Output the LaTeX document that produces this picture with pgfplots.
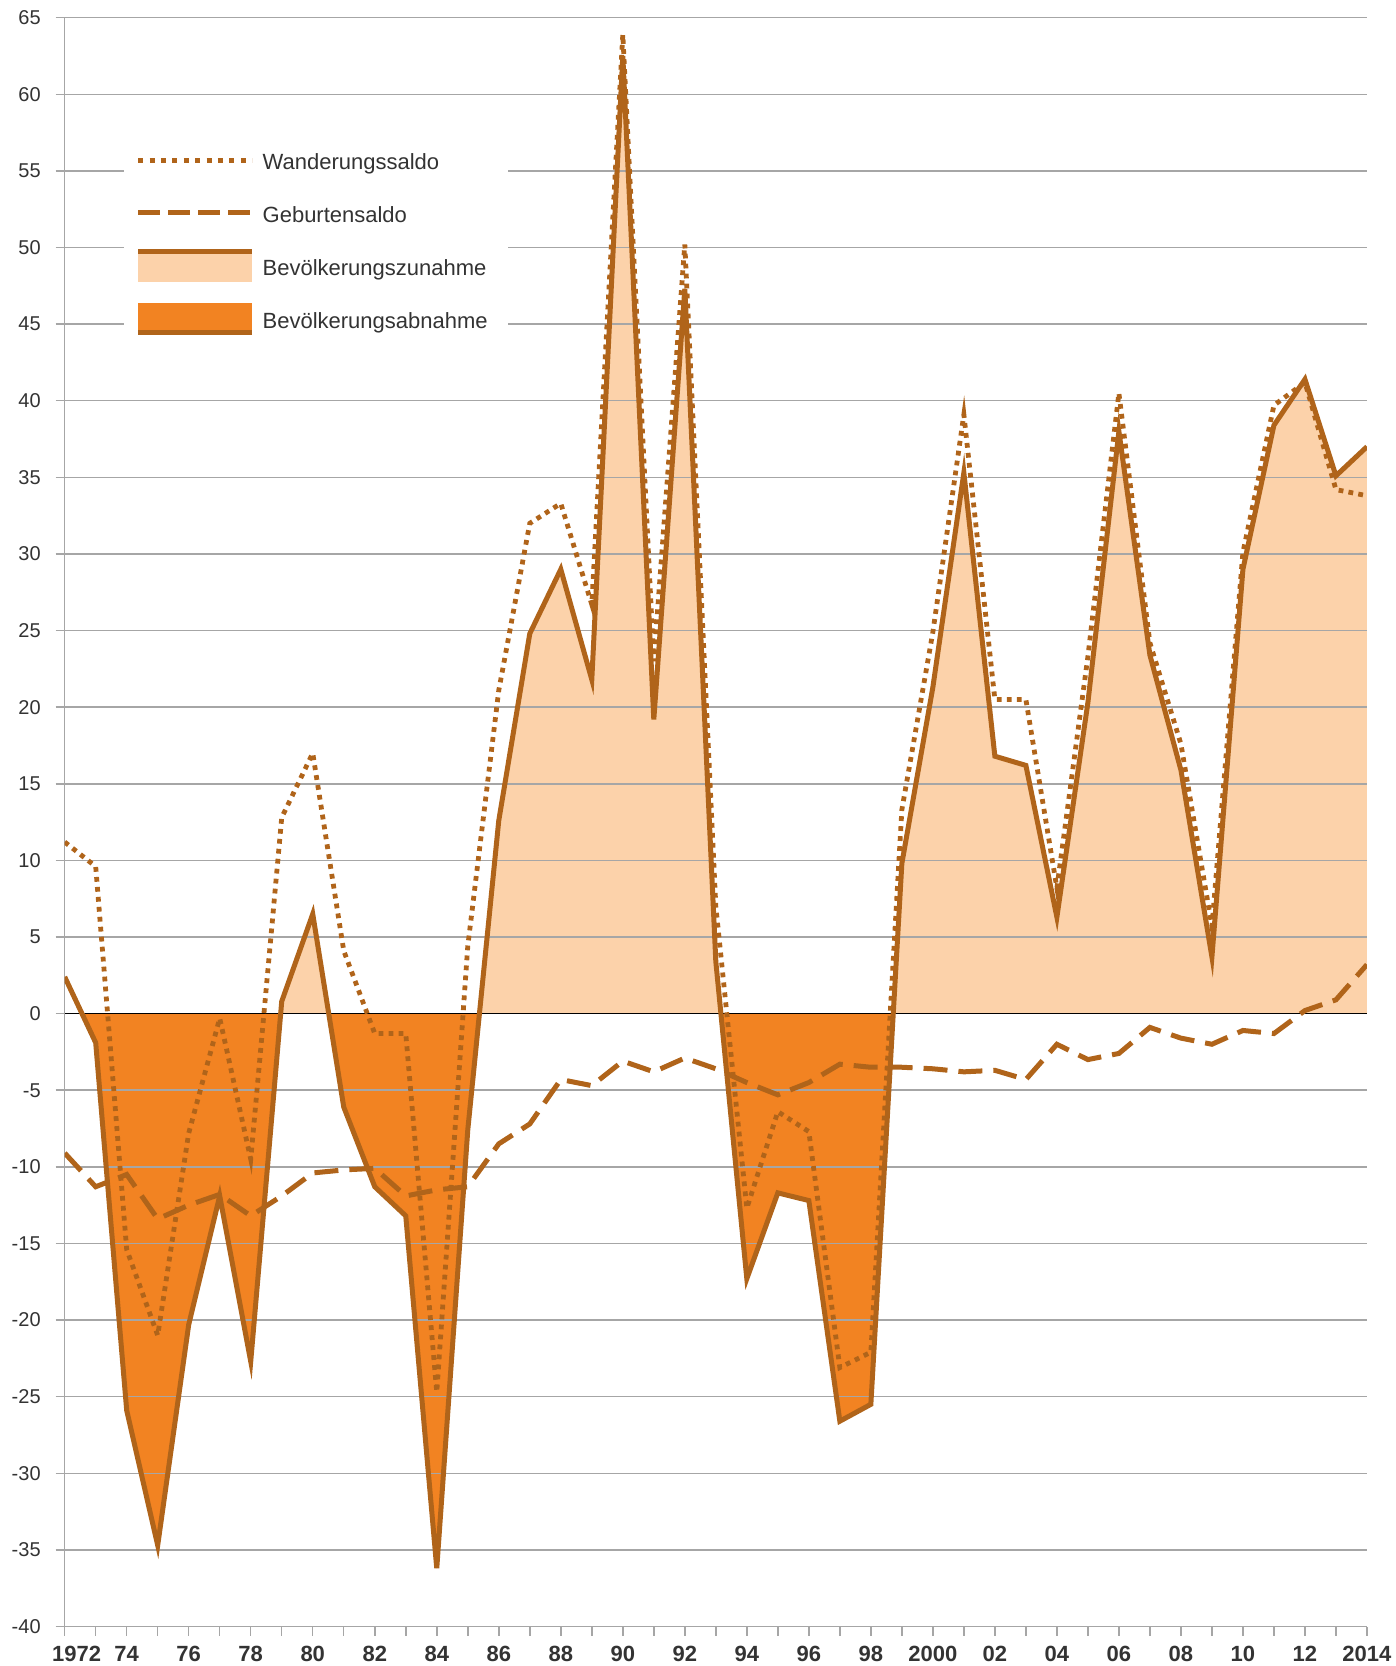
\documentclass[border=0pt]{standalone}
\usepackage{pgfplots}
\pgfplotsset{compat=1.18}
\usepackage{pgfplotstable}
\usepgfplotslibrary{fillbetween}
\usepackage{fontspec}
\setmainfont{Liberation Sans}
\definecolor{linebrown}{HTML}{B0641A}
\definecolor{lightfill}{HTML}{FCD2AA}
\definecolor{darkfill}{HTML}{F28322}
\definecolor{gridgray}{HTML}{A6A6A6}
\definecolor{txt}{HTML}{333333}

\pgfplotsset{
  layers/mylayers/.define layer set={
    axis background, pre main, axis grid, axis ticks, axis lines,
    axis tick labels, main, axis descriptions, axis foreground
  }{},
}

\pgfplotstableread{
year total births mig
1972 2.4 -9.1 11.2
1973 -1.9 -11.3 9.6
1974 -25.9 -10.5 -15.4
1975 -34.7 -13.4 -21.0
1976 -20.3 -12.5 -7.8
1977 -11.9 -11.8 -0.3
1978 -22.7 -13.2 -9.5
1979 0.8 -11.9 12.8
1980 6.5 -10.4 17.0
1981 -6.1 -10.2 4.1
1982 -11.3 -10.1 -1.3
1983 -13.2 -11.9 -1.3
1984 -36.2 -11.5 -24.7
1985 -7.6 -11.3 4.4
1986 12.6 -8.5 21.1
1987 24.8 -7.2 32.0
1988 29.0 -4.3 33.3
1989 21.8 -4.7 26.7
1990 62.5 -3.1 63.9
1991 19.2 -3.8 23.0
1992 47.3 -2.9 50.2
1993 3.4 -3.6 7.0
1994 -17.3 -4.5 -12.7
1995 -11.7 -5.3 -6.4
1996 -12.2 -4.5 -7.7
1997 -26.6 -3.3 -23.1
1998 -25.5 -3.5 -22.1
1999 9.8 -3.5 13.3
2000 21.3 -3.6 24.9
2001 35.3 -3.8 39.1
2002 16.8 -3.7 20.5
2003 16.2 -4.3 20.5
2004 6.3 -2.0 8.2
2005 20.3 -3.0 23.3
2006 38.0 -2.6 40.5
2007 23.4 -0.9 24.2
2008 15.9 -1.6 17.6
2009 3.7 -2.0 5.7
2010 29.0 -1.1 30.1
2011 38.4 -1.3 39.7
2012 41.4 0.2 41.2
2013 35.1 0.9 34.2
2014 37.0 3.2 33.8
}\datatable

\begin{document}
\begin{tikzpicture}
\begin{axis}[
  set layers=mylayers,
  at={(0,0)}, anchor=south west,
  scale only axis, width=651.2pt, height=804.5pt,
  xmin=1972, xmax=2014, ymin=-40, ymax=65,
  axis lines=left,
  axis line style={-, draw=gridgray, line width=0.75pt},
  xtick={1972,1974,...,2014},
  minor xtick={1973,1975,...,2013},
  xticklabels={\hspace*{12pt}1972,74,76,78,80,82,84,86,88,90,92,94,96,98,2000,02,04,06,08,10,12,2014},
  ytick={-40,-35,...,65},
  ymajorgrids,
  grid style={draw=gridgray, line width=0.75pt},
  tick align=outside,
  major tick length=4.5pt, minor tick length=4.5pt,
  tick style={draw=gridgray, line width=0.75pt},
  minor tick style={draw=gridgray, line width=0.75pt},
  xticklabel style={font=\fontsize{11}{13}\selectfont\bfseries, text=txt, yshift=-2pt},
  yticklabel style={font=\fontsize{10}{12}\selectfont, text=txt, xshift=-4pt},
  /pgf/number format/assume math mode=true,
  legend cell align=left,
  legend style={at={(axis description cs:0.045,0.929)}, anchor=north west,
    draw=none, fill=white, inner xsep=6pt, inner ysep=6pt,
    font=\fontsize{11}{13}\selectfont, text=txt, row sep=10pt,
    nodes={inner xsep=4pt}},
]
\addlegendimage{legend image code/.code={
  \path[draw=none, fill=none] (0,-6.5pt) rectangle (57pt,9.5pt);
  \draw[linebrown, line width=2.5pt, dash pattern=on 2.5pt off 3.2pt] (0,1.5pt) -- (57pt,1.5pt);}}
\addlegendentry{Wanderungssaldo}
\addlegendimage{legend image code/.code={
  \path[draw=none, fill=none] (0,-6.5pt) rectangle (57pt,9.5pt);
  \draw[linebrown, line width=2.5pt, dash pattern=on 11pt off 4pt] (0,1.5pt) -- (57pt,1.5pt);}}
\addlegendentry{Geburtensaldo}
\addlegendimage{legend image code/.code={
  \path[draw=none, fill=lightfill] (0,-6.5pt) rectangle (57pt,9.5pt);
  \draw[linebrown, line width=2.5pt] (0,8.7pt) -- (57pt,8.7pt);}}
\addlegendentry{Bevölkerungszunahme}
\addlegendimage{legend image code/.code={
  \path[draw=none, fill=darkfill] (0,-6.5pt) rectangle (57pt,9.5pt);
  \draw[linebrown, line width=2.5pt] (0,-5.7pt) -- (57pt,-5.7pt);}}
\addlegendentry{Bevölkerungsabnahme}

\addplot[name path=total, draw=none, forget plot] table[x=year, y=total] {\datatable};
\addplot[name path=zero, draw=none, forget plot] coordinates {(1972,0) (2014,0)};
\addplot[fill=lightfill, draw=none, forget plot]
  fill between[of=total and zero, soft clip={(axis cs:1972,0) rectangle (axis cs:2014,65)}];
\addplot[fill=darkfill, draw=none, forget plot]
  fill between[of=total and zero, soft clip={(axis cs:1972,-40) rectangle (axis cs:2014,0)}];
\addplot[black, line width=0.8pt, forget plot] coordinates {(1972,0) (2014,0)};
\addplot[linebrown, line width=2.5pt, line join=miter, forget plot] table[x=year, y=total] {\datatable};
\addplot[linebrown, line width=2.5pt, dash pattern=on 12pt off 5.5pt, forget plot] table[x=year, y=births] {\datatable};
\addplot[linebrown, line width=2.4pt, dash pattern=on 2.4pt off 2.6pt, forget plot] table[x=year, y=mig] {\datatable};
\end{axis}
\pgfresetboundingbox
\path[use as bounding box] (-32.35pt,-19.75pt) rectangle (665.7pt,813.35pt);
\end{tikzpicture}
\end{document}
